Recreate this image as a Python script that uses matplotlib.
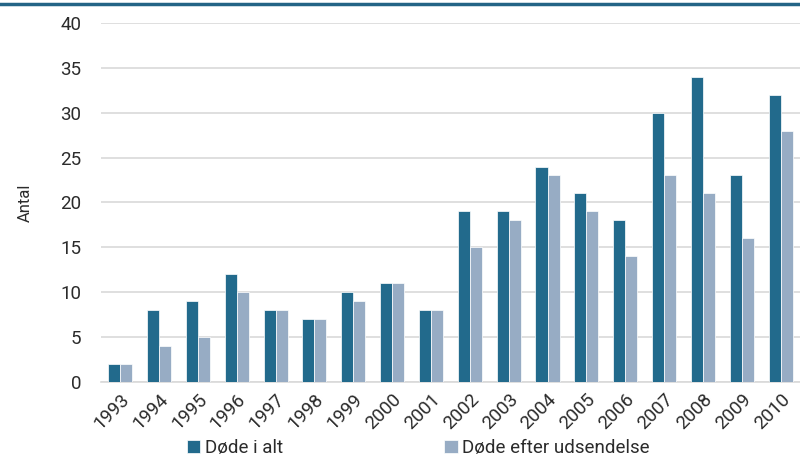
import matplotlib

matplotlib.use("Agg")
import matplotlib.pyplot as plt
from matplotlib.lines import Line2D
import numpy as np

years = [str(y) for y in range(1993, 2011)]
dode_i_alt = [2, 8, 9, 12, 8, 7, 10, 11, 8, 19, 19, 24, 21, 18, 30, 34, 23, 32]
dode_efter = [2, 4, 5, 10, 8, 7, 9, 11, 8, 15, 18, 23, 19, 14, 23, 21, 16, 28]

dark = "#226a8c"
light = "#97acc4"
grid_c = "#d9d9d9"
text_c = "#2b2b2b"

plt.rcParams["font.family"] = ["Roboto", "DejaVu Sans"]

fig = plt.figure(figsize=(8, 4.68), dpi=100)
ax = fig.add_axes([0.126, 0.184, 0.874, 0.767])

x = np.arange(len(years))
w = 0.31
ax.bar(x - w / 2, dode_i_alt, w, color=dark, edgecolor="white", linewidth=0.5,
       label="Døde i alt", zorder=3)
ax.bar(x + w / 2, dode_efter, w, color=light, edgecolor="white", linewidth=0.5,
       label="Døde efter udsendelse", zorder=3)

ax.set_xlim(-0.5, len(years) - 0.5)
ax.set_ylim(0, 40)
ax.set_yticks(range(0, 41, 5))
ax.yaxis.grid(True, color=grid_c, lw=1.2, zorder=0)
ax.set_xticks(x)
ax.set_xticklabels(years, rotation=45, ha="right", rotation_mode="anchor")
ax.tick_params(axis="both", length=0, labelsize=13.5, colors=text_c, pad=6)
ax.tick_params(axis="y", pad=14)
for s in ["top", "right", "left"]:
    ax.spines[s].set_visible(False)
ax.spines["bottom"].set_color(grid_c)
ax.spines["bottom"].set_linewidth(1.2)
ax.set_ylabel("Antal", fontsize=12, color=text_c, labelpad=20)

fig.legend(loc="lower left", bbox_to_anchor=(0.213, -0.012), ncol=2, frameon=False,
           fontsize=13.5, handlelength=0.7, handleheight=0.7, handletextpad=0.25,
           columnspacing=8.6, labelcolor=text_c)

# dark rule across the top
fig.add_artist(Line2D([0, 1], [0.991, 0.991], transform=fig.transFigure,
                      color="#236486", lw=2.5))

fig.savefig("out.png", dpi=100)
